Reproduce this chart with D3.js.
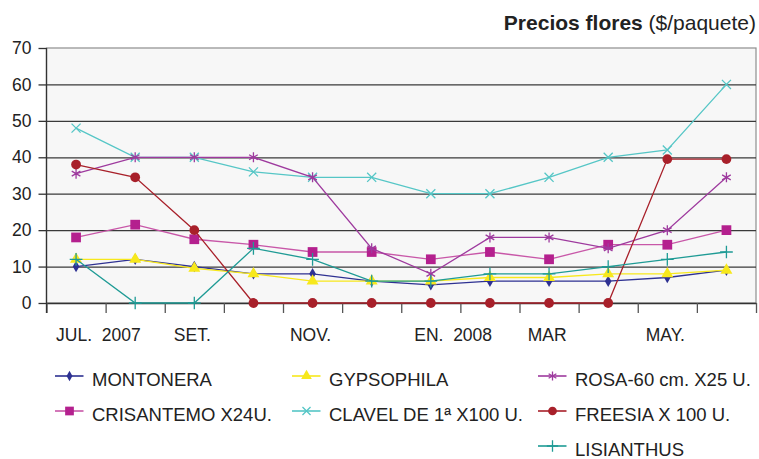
<!DOCTYPE html>
<html>
<head>
<meta charset="utf-8">
<script src="https://cdn.jsdelivr.net/npm/d3@7"></script>
<style>
  body { margin: 0; background: #fff; }
  svg { font-family: Arial, "Liberation Sans", sans-serif; }
</style>
</head>
<body>
<div id="chart"></div>
<script>
// months Jul 2007 - Jun 2008
const months = ['JUL', 'AGO', 'SET', 'OCT', 'NOV', 'DIC', 'ENE', 'FEB', 'MAR', 'ABR', 'MAY', 'JUN'];
const tickLabels = ['JUL.  2007', '', 'SET.', '', 'NOV.', '', 'EN.  2008', '', 'MAR', '', 'MAY.', ''];
const yTicks = [0, 10, 20, 30, 40, 50, 60, 70];

const montonera  = [10, 12, 10, 8, 8, 6, 5, 6, 6, 6, 7, 9];
const crisantemo = [18, 21.5, 17.5, 16, 14, 14, 12, 14, 12, 16, 16, 20];
const gypsophila = [12, 12, 9.5, 8, 6, 6, 6, 7, 7, 8, 8, 9];
const clavel     = [48, 40, 40, 36, 34.5, 34.5, 30, 30, 34.5, 40, 42, 60];
const rosa       = [35.5, 40, 40, 40, 34.5, 15, 8, 18, 18, 15, 20, 34.5];
const freesia    = [38, 34.5, 20, 0, 0, 0, 0, 0, 0, 0, 39.5, 39.5];
const lisianthus = [12, 0, 0, 15, 12, 6, 6, 8, 8, 10, 12, 14];

const seriesNames = ['MONTONERA', 'CRISANTEMO X24U.', 'GYPSOPHILA', 'CLAVEL DE 1ª X100 U.', 'ROSA-60 cm. X25 U.', 'FREESIA X 100 U.', 'LISIANTHUS'];
const seriesValues = [montonera, crisantemo, gypsophila, clavel, rosa, freesia, lisianthus];

class FlowerChart {
    constructor(_config) {
        this.config = {
            parentElement: _config.parentElement,
            containerWidth: _config.containerWidth || 759,
            containerHeight: _config.containerHeight || 459,
            margin: _config.margin || {top: 48, right: 3, bottom: 156, left: 46.5}
        };
        // per series style: colour, marker, marker size, legend slot [col,row]
        this.styles = [
            {color: '#2e3192', symbol: d3.symbolDiamond,  size: 38, fill: true,  slot: [0, 0]},
            {color: '#b4208e', symbol: d3.symbolSquare,   size: 95, fill: true,  slot: [0, 1], line: '#c857a8'},
            {color: '#f7e81c', symbol: d3.symbolTriangle, size: 62, fill: true,  slot: [1, 0]},
            {color: '#55c6c6', symbol: d3.symbolX,        size: 55, fill: false, slot: [1, 1]},
            {color: '#9e3a9e', symbol: d3.symbolAsterisk, size: 70, fill: false, slot: [2, 0]},
            {color: '#a8202a', symbol: d3.symbolCircle,   size: 75, fill: true,  slot: [2, 1]},
            {color: '#1f9b95', symbol: d3.symbolPlus,     size: 55, fill: false, slot: [2, 2]}
        ];
        this.initVis();
    }

    initVis() {
        let vis = this;
        vis.width = vis.config.containerWidth - vis.config.margin.left - vis.config.margin.right;
        vis.height = vis.config.containerHeight - vis.config.margin.top - vis.config.margin.bottom;

        vis.svg = d3.select(vis.config.parentElement)
            .append('svg')
                .attr('width', vis.config.containerWidth)
                .attr('height', vis.config.containerHeight);

        vis.chart = vis.svg.append('g')
            .attr('transform', `translate(${vis.config.margin.left},${vis.config.margin.top})`);

        vis.xScale = d3.scaleBand().domain(months).range([0, vis.width]);
        vis.xEdge = d3.scaleLinear().domain([0, months.length]).range([0, vis.width]);
        vis.yScale = d3.scaleLinear().domain([0, 70]).range([vis.height, 0]);

        // plot background
        vis.chart.append('rect')
            .attr('width', vis.width)
            .attr('height', vis.height)
            .attr('fill', '#f7f7f7')
            .attr('stroke', '#8e8e8e')
            .attr('stroke-width', 1.2);

        // gridlines
        vis.chart.append('g')
            .attr('class', 'grid')
            .call(d3.axisLeft(vis.yScale).tickValues(yTicks.slice(1, -1)).tickSize(-vis.width).tickFormat(''))
            .call(g => g.select('.domain').remove())
            .call(g => g.selectAll('line').attr('stroke', '#3a3a3a').attr('stroke-width', 1.3));

        // title
        const title = vis.svg.append('text')
            .attr('x', 756)
            .attr('y', 30)
            .attr('text-anchor', 'end')
            .attr('font-size', 21)
            .attr('fill', '#222');
        title.append('tspan').attr('font-weight', 'bold').text('Precios flores ');
        title.append('tspan').text('($/paquete)');

        vis.updateVis();
    }

    updateVis() {
        let vis = this;
        vis.series = seriesNames.map((name, i) => ({
            name: name,
            style: vis.styles[i],
            values: seriesValues[i].map((v, j) => ({month: months[j], value: v}))
        }));
        vis.renderVis();
    }

    renderVis() {
        let vis = this;

        // y axis
        vis.chart.append('g')
            .attr('class', 'axis y-axis')
            .call(d3.axisLeft(vis.yScale).tickValues(yTicks).tickSize(8).tickPadding(7))
            .call(g => g.select('.domain').remove())
            .call(g => g.selectAll('line').attr('stroke', '#333').attr('stroke-width', 1.3))
            .call(g => g.selectAll('text').attr('font-size', 17.5).attr('fill', '#222').attr('font-family', 'Arial, "Liberation Sans", sans-serif'));

        // x axis: tick marks at month boundaries
        vis.chart.append('g')
            .attr('class', 'axis x-axis')
            .attr('transform', `translate(0,${vis.height})`)
            .call(d3.axisBottom(vis.xEdge).tickValues(d3.range(months.length + 1)).tickSize(10).tickFormat('').tickSizeOuter(0))
            .call(g => g.select('.domain').attr('stroke', '#333').attr('stroke-width', 1.3))
            .call(g => g.selectAll('line').attr('stroke', '#555').attr('stroke-width', 1.3));

        vis.chart.append('line')
            .attr('x1', 0).attr('x2', 0)
            .attr('y1', 0).attr('y2', vis.height + 10)
            .attr('stroke', '#333').attr('stroke-width', 1.3);

        // x labels: month centred on band, year trailing
        const labelAxis = vis.chart.append('g')
            .attr('transform', `translate(-2,${vis.height})`)
            .call(d3.axisBottom(vis.xScale).tickSize(0).tickPadding(25.5).tickFormat((d, i) => ''))
            .call(g => g.select('.domain').remove());
        labelAxis.selectAll('.tick text')
            .attr('font-size', 17.5)
            .attr('fill', '#222')
            .attr('font-family', 'Arial, "Liberation Sans", sans-serif')
            .attr('text-anchor', 'start')
            .each(function(d, i) {
                const parts = tickLabels[i].split('  ');
                const t = d3.select(this);
                const m = t.append('tspan').text(parts[0]);
                if (parts[1]) t.append('tspan').text('\u00a0\u00a0' + parts[1]);
                t.attr('x', -m.node().getComputedTextLength() / 2);
            });

        // lines
        const line = d3.line()
            .x(d => vis.xScale(d.month) + vis.xScale.bandwidth() / 2)
            .y(d => vis.yScale(d.value));

        const groups = vis.chart.selectAll('.series')
            .data(vis.series)
        .join('g')
            .attr('class', 'series');

        groups.append('path')
            .attr('d', d => line(d.values))
            .attr('fill', 'none')
            .attr('stroke', d => d.style.line || d.style.color)
            .attr('stroke-width', 1.3);

        groups.selectAll('.marker')
            .data(d => d.values.map(v => ({...v, style: d.style})))
        .join('path')
            .attr('class', 'marker')
            .attr('transform', d => `translate(${vis.xScale(d.month) + vis.xScale.bandwidth() / 2},${vis.yScale(d.value)})`)
            .attr('d', d => d3.symbol(d.style.symbol, d.style.size)())
            .attr('fill', d => d.style.fill ? d.style.color : 'none')
            .attr('stroke', d => d.style.color)
            .attr('stroke-width', d => d.style.fill ? 0 : 1.3);

        // legend
        const colX = [55, 292, 538];
        const rowY = [386, 421, 456];
        const legend = vis.svg.selectAll('.legend-item')
            .data(vis.series)
        .join('g')
            .attr('class', 'legend-item')
            .attr('transform', d => `translate(${colX[d.style.slot[0]]},${rowY[d.style.slot[1]]})`);

        legend.append('line')
            .attr('x1', 0).attr('x2', 28.5)
            .attr('y1', -10).attr('y2', -10)
            .attr('stroke', d => d.style.line || d.style.color)
            .attr('stroke-width', 1.6);

        legend.append('path')
            .attr('transform', 'translate(14.5,-10)')
            .attr('d', d => d3.symbol(d.style.symbol, d.style.size * 0.8)())
            .attr('fill', d => d.style.fill ? d.style.color : 'none')
            .attr('stroke', d => d.style.color)
            .attr('stroke-width', d => d.style.fill ? 0 : 1.3);

        legend.append('text')
            .attr('x', 37)
            .attr('font-size', 18.5)
            .attr('fill', '#222')
            .text(d => d.name);
    }
}

new FlowerChart({parentElement: '#chart'});
</script>
</body>
</html>
